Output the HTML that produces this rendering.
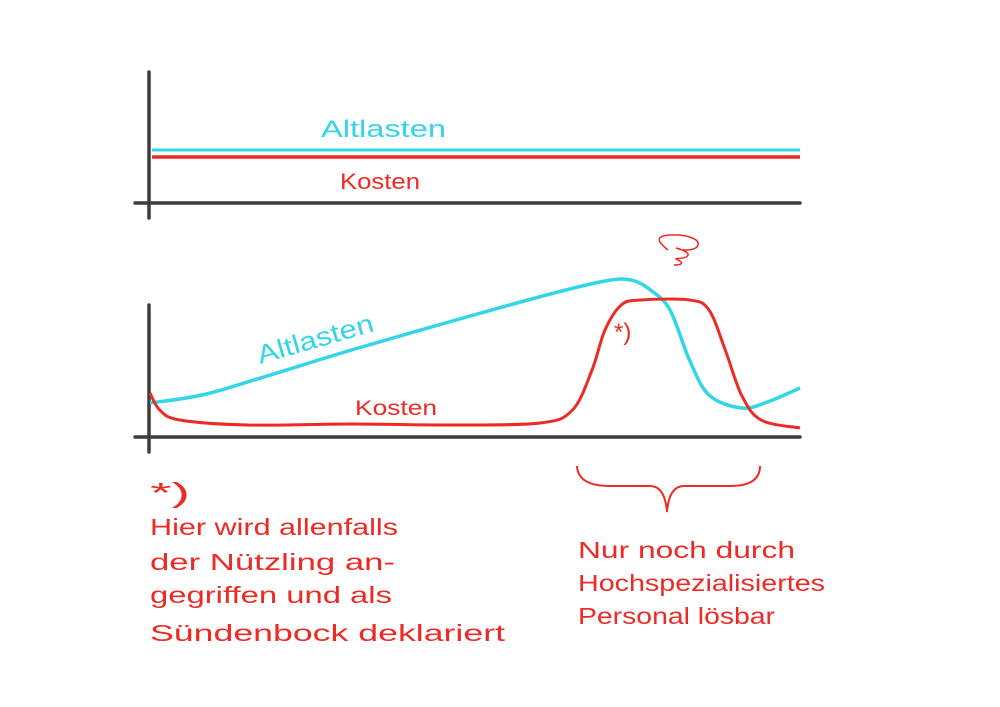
<!DOCTYPE html>
<html><head><meta charset="utf-8">
<style>
html,body{margin:0;padding:0;background:#fff;}
svg{display:block;}
text{font-family:"Liberation Sans",sans-serif;}
</style></head>
<body>
<svg width="1000" height="707" viewBox="0 0 1000 707">
  <rect width="1000" height="707" fill="#fff"/>
  <g>
    <line x1="149" y1="72" x2="149" y2="218" stroke="#3d3d3d" stroke-width="3.5" stroke-linecap="round"/>
    <line x1="135" y1="203" x2="800" y2="203" stroke="#3d3d3d" stroke-width="3.5" stroke-linecap="round"/>
    <line x1="152" y1="150" x2="800" y2="150" stroke="#33d6e6" stroke-width="3"/>
    <line x1="152" y1="157" x2="800" y2="157" stroke="#ee2a24" stroke-width="3.5"/>
    <text x="321" y="137" font-size="24" fill="#33d6e6" textLength="125" lengthAdjust="spacingAndGlyphs">Altlasten</text>
    <text x="340" y="189" font-size="22" fill="#ee2a24" textLength="80" lengthAdjust="spacingAndGlyphs">Kosten</text>
  </g>
  <g>
    <line x1="149" y1="305" x2="149" y2="452" stroke="#3d3d3d" stroke-width="3.5" stroke-linecap="round"/>
    <line x1="135" y1="437" x2="800" y2="437" stroke="#3d3d3d" stroke-width="3.5" stroke-linecap="round"/>
    <path id="altlasten-curve" fill="none" stroke="#33d6e6" stroke-width="3.5"/>
    <path id="kosten-curve" fill="none" stroke="#ee2a24" stroke-width="3"/>
    <text x="0" y="0" font-size="26" fill="#33d6e6" textLength="120" lengthAdjust="spacingAndGlyphs" transform="translate(260,364) rotate(-16)">Altlasten</text>
    <text x="355" y="415" font-size="21" fill="#ee2a24" textLength="82" lengthAdjust="spacingAndGlyphs">Kosten</text>
    <text x="614" y="340" font-size="24" fill="#ee2a24">*)</text>
    <path d="M668,250 c-10,-8 -14,-14 2,-15 c16,-1 30,4 28,10 c-2,6 -16,6 -22,3 c8,2 16,6 10,9 c-6,3 -14,0 -8,3 c6,3 4,5 -4,5" fill="none" stroke="#ee2a24" stroke-width="1.5"/>
  </g>
  <g fill="#ee2a24" font-size="23">
    <text x="150" y="502" font-size="28" textLength="40" lengthAdjust="spacingAndGlyphs">*)</text>
    <text x="150" y="535" textLength="248" lengthAdjust="spacingAndGlyphs">Hier wird allenfalls</text>
    <text x="150" y="570" textLength="245" lengthAdjust="spacingAndGlyphs">der Nützling an-</text>
    <text x="150" y="603" textLength="242" lengthAdjust="spacingAndGlyphs">gegriffen und als</text>
    <text x="150" y="641" textLength="355" lengthAdjust="spacingAndGlyphs">Sündenbock deklariert</text>
  </g>
  <path d="M577,466 Q578,486 610,486 L650,486 Q665,486 667,512 Q669,486 684,486 L730,486 Q760,486 760,466" fill="none" stroke="#ee2a24" stroke-width="2"/>
  <g fill="#ee2a24" font-size="23">
    <text x="578" y="558" textLength="217" lengthAdjust="spacingAndGlyphs">Nur noch durch</text>
    <text x="578" y="591" textLength="247" lengthAdjust="spacingAndGlyphs">Hochspezialisiertes</text>
    <text x="578" y="624" textLength="197" lengthAdjust="spacingAndGlyphs">Personal lösbar</text>
  </g>
</svg>
<script>
// x positions in chart units (0..100 across the time axis), values = height above baseline
const timeAltlasten = [0, 8, 17, 31, 46, 61, 70, 74, 77, 80, 83, 86, 91, 95, 100];
const altlastenValues = [34, 42, 59, 87, 115, 142, 156, 157, 147, 127, 77, 42, 29, 35, 49];
const timeKosten = [0, 1.5, 4.6, 15, 31, 46, 60, 65, 68, 70, 72.5, 75.5, 83, 86, 88.5, 91, 94, 100];
const kostenValues = [44, 27, 17, 12, 13, 12, 14, 27, 67, 107, 132, 137, 137, 127, 87, 42, 17, 9];

const x0 = 150, x1 = 800, yBase = 437;
function xScale(t){ return x0 + (x1 - x0) * t / 100; }
function yScale(v){ return yBase - v; }

function smoothPath(ts, vs){
  const p = ts.map((t,i)=>[xScale(t), yScale(vs[i])]);
  let d = "M" + p[0][0] + "," + p[0][1];
  for(let i=0;i<p.length-1;i++){
    const a=p[Math.max(i-1,0)], b=p[i], c=p[i+1], e=p[Math.min(i+2,p.length-1)];
    const c1=[b[0]+(c[0]-a[0])/6, b[1]+(c[1]-a[1])/6];
    const c2=[c[0]-(e[0]-b[0])/6, c[1]-(e[1]-b[1])/6];
    d += " C"+c1[0]+","+c1[1]+" "+c2[0]+","+c2[1]+" "+c[0]+","+c[1];
  }
  return d;
}
document.getElementById('altlasten-curve').setAttribute('d', smoothPath(timeAltlasten, altlastenValues));
document.getElementById('kosten-curve').setAttribute('d', smoothPath(timeKosten, kostenValues));
</script>
</body></html>
